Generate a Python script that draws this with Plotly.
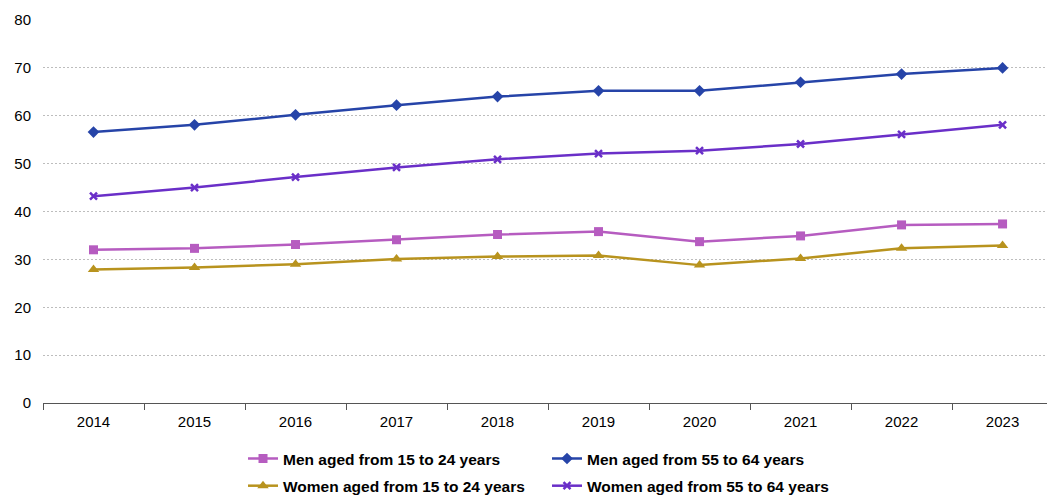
import plotly.graph_objects as go

years = ["2014", "2015", "2016", "2017", "2018", "2019", "2020", "2021", "2022", "2023"]
men_15_24 = [32.0, 32.3, 33.1, 34.1, 35.2, 35.8, 33.7, 34.9, 37.2, 37.4]
men_55_64 = [56.6, 58.1, 60.2, 62.2, 64.0, 65.2, 65.2, 67.0, 68.7, 70.0]
women_15_24 = [27.9, 28.3, 29.0, 30.1, 30.6, 30.8, 28.8, 30.2, 32.3, 32.9]
women_55_64 = [43.2, 45.0, 47.2, 49.2, 50.9, 52.1, 52.7, 54.1, 56.1, 58.1]
y_ticks = [0, 10, 20, 30, 40, 50, 60, 70, 80]

series = [
    ("Men aged from 15 to 24 years", men_15_24, "#B65CC0", "square", 9, "legend"),
    ("Men aged from 55 to 64 years", men_55_64, "#2644A8", "diamond", 9, "legend"),
    ("Women aged from 15 to 24 years", women_15_24, "#B8931E", "triangle-up", 10, "legend2"),
    ("Women aged from 55 to 64 years", women_55_64, "#6A2FC8", "x-thin", 7, "legend2"),
]

fig = go.Figure()
for name, vals, color, sym, size, lg in series:
    marker = dict(symbol=sym, size=size, color=color)
    if sym == "x-thin":
        marker["line"] = dict(color=color, width=2.5)
    fig.add_trace(go.Scatter(
        x=years, y=vals, name=name, mode="lines+markers",
        line=dict(color=color, width=2.5), marker=marker, legend=lg,
    ))

font = "Liberation Sans, Arial, sans-serif"
legend_font = dict(family=font, size=15.5, color="#000000", weight="bold")
fig.update_layout(
    width=1047, height=495,
    margin=dict(l=43, r=0, t=20, b=92, autoexpand=False),
    paper_bgcolor="white", plot_bgcolor="white",
    font=dict(family=font, size=15, color="#000000"),
    xaxis=dict(
        type="category", range=[-0.5, 9.44], tickson="boundaries",
        ticks="outside", ticklen=6, tickcolor="#555555",
        showline=True, linecolor="#555555", linewidth=1,
        showgrid=False, tickfont=dict(size=15, color="#000000"),
        ticklabelstandoff=5,
    ),
    yaxis=dict(
        range=[0, 80], tickvals=y_ticks, showline=False,
        showgrid=True, gridcolor="#BDBDBD", gridwidth=1, griddash="2px,2px",
        zeroline=False, ticks="", tickfont=dict(size=15, color="#000000"),
        ticklabelstandoff=11,
    ),
    legend=dict(
        orientation="h", x=0.502, xanchor="center", y=-0.146, yanchor="middle",
        entrywidth=259, entrywidthmode="pixels",
        font=legend_font, bgcolor="rgba(0,0,0,0)",
    ),
    legend2=dict(
        orientation="h", x=0.502, xanchor="center", y=-0.217, yanchor="middle",
        entrywidth=259, entrywidthmode="pixels",
        font=legend_font, bgcolor="rgba(0,0,0,0)",
    ),
    showlegend=True,
)

fig.write_html("out.html")
